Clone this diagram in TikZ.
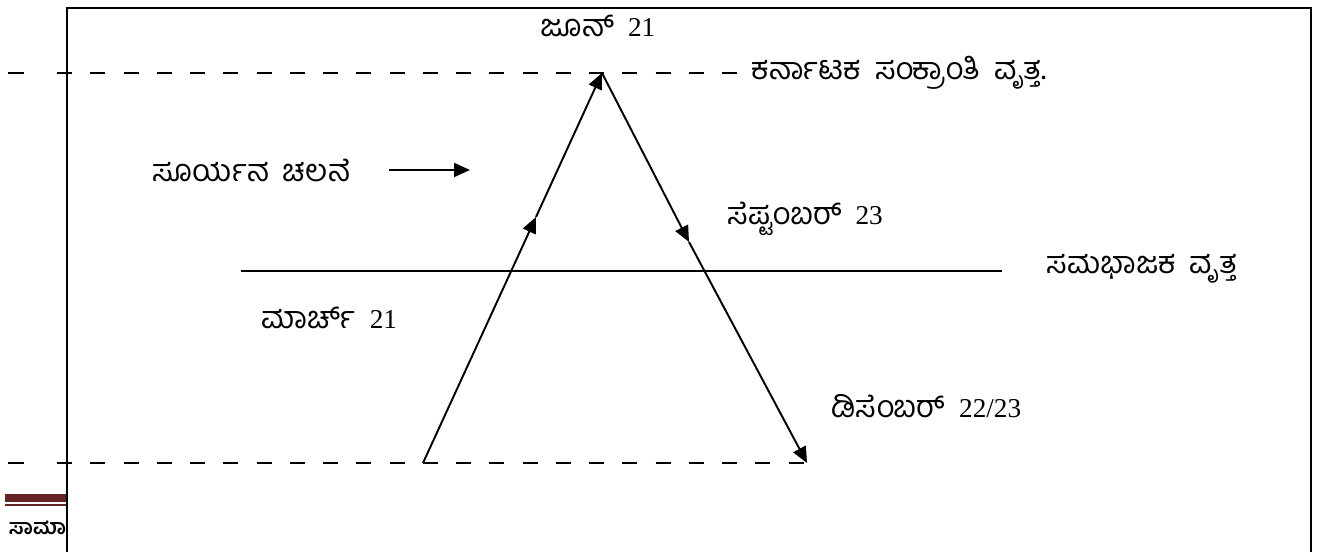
\documentclass[tikz,border=0pt]{standalone}
\usepackage{fontspec}
\setmainfont{Liberation Serif}
\newfontfamily\kan[Script=Kannada]{Hind Mysuru}
\newcommand\kn{\kan\spaceskip=0.45em\relax}
\newcommand\dt[1]{{\rmfamily\fontsize{15.5}{18}\selectfont #1}}
\usetikzlibrary{arrows.meta}
\definecolor{BarBrown}{RGB}{99,36,35}

\begin{document}
\begin{tikzpicture}[x=1cm,y=1cm, line width=1.1pt,
    every node/.style={inner sep=0pt, font=\fontsize{17.5}{20}\selectfont},
    lbl/.style={anchor=west},
    path/.style={-{Triangle[length=3.2mm,width=2.8mm]}},
    cut/.style={dash pattern=on 0.3cm off 0.365cm}]
  \useasboundingbox (0,0) rectangle (26.5,11.04);

  % page footer behind the frame
  \begin{scope}
    \clip (0,0) rectangle (1.34,11.04);
    \fill[BarBrown] (0.1,1.0) rectangle (1.4,1.16);
    \draw[BarBrown, line width=0.6pt] (0.1,0.94) -- (1.4,0.94);
    \node[lbl, font=\kan\bfseries\fontsize{12}{14}\selectfont] (foot) at (0.16,0.48) {ಸಾಮಾ};
  \end{scope}
  \draw (1.34,-0.2) -- (1.34,10.88) -- (26.22,10.88) -- (26.22,-0.2);

  \coordinate (jun) at (12.04,9.58);
  \coordinate (mar) at (8.46,1.78);
  \coordinate (dec) at (16.14,1.78);
  \coordinate (up) at (10.72,6.7);
  \coordinate (down) at (13.78,6.2);

  % tropic and equator
  \draw (0.16,9.58) -- (0.48,9.58);
  \draw[cut] (1.14,9.58) -- (14.74,9.58);
  \draw (0.16,1.78) -- (0.48,1.78);
  \draw[cut] (1.14,1.78) -- (dec);
  \draw (4.82,5.62) -- (20.04,5.62);

  \node (njun) at (11.96,10.52) {\kn ಜೂನ್ \dt{21}};
  \node[lbl] (tropic) at (15.02,9.58) {\kn ಕರ್ನಾಟಕ ಸಂಕ್ರಾಂತಿ ವೃತ್ತ.};
  \node[lbl] (sun) at (3.04,7.64) {\kn ಸೂರ್ಯನ ಚಲನೆ};
  \node[lbl] (sep) at (14.54,6.66) {\kn ಸೆಪ್ಟಂಬರ್ \dt{23}};
  \node[lbl] (equ) at (20.92,5.66) {\kn ಸಮಭಾಜಕ ವೃತ್ತ};
  \node[lbl] (nmar) at (5.22,4.68) {\kn ಮಾರ್ಚ್ \dt{21}};
  \node[lbl] (ndec) at (16.62,2.92) {\kn ಡಿಸೆಂಬರ್ \dt{22/23}};

  \coordinate (mvA) at (7.78,7.64);
  \coordinate (mvB) at (9.4,7.64);
  \draw[path] (mvA) -- (mvB);

  % apparent path of the sun
  \draw[path] (mar) -- (up);
  \draw[path] (up) -- (jun);
  \draw[path] (jun) -- (down);
  \draw[path] (down) -- (dec);
\end{tikzpicture}
\end{document}
